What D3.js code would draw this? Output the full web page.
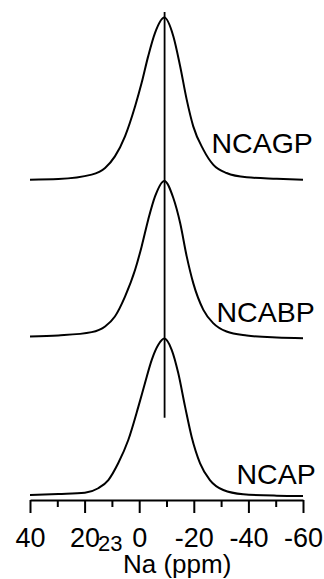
<!DOCTYPE html>
<html>
<head>
<meta charset="utf-8">
<script src="https://cdn.jsdelivr.net/npm/d3@7"></script>
<style>
    html, body { margin: 0; padding: 0; background: #fff; }
    svg { display: block; font-family: "Liberation Sans", Arial, sans-serif; }
</style>
</head>
<body>
<div id="plot"></div>
<script>
// sample names, stacked bottom to top
const samples = ["NCAP", "NCABP", "NCAGP"];
const offsets = [0, 1, 2];

// chemical shift (ppm), per spectrum
const shiftNCAP = [40, 29.6, 19.9, 15.0, 11.3, 7.7, 4.0, 0.3, -2.1, -4.6, -7.0, -9.2,
    -11.9, -14.3, -16.8, -19.2, -22.3, -25.9, -30.8, -38.1, -50.4, -60];
const intNCAP = [0.006, 0.013, 0.021, 0.049, 0.101, 0.207, 0.354, 0.565, 0.713, 0.861, 0.956, 0.995,
    0.924, 0.777, 0.565, 0.375, 0.207, 0.101, 0.038, 0.011, 0.002, 0.0];

const shiftNCABP = [40, 29.6, 17.4, 12.5, 8.9, 5.2, 1.5, -0.9, -3.3, -5.8, -9.2,
    -12.5, -15.0, -17.4, -19.8, -23.5, -27.1, -32.0, -39.4, -50.4, -60];
const intNCABP = [0.008, 0.015, 0.036, 0.072, 0.135, 0.261, 0.430, 0.578, 0.747, 0.894, 0.992,
    0.884, 0.726, 0.515, 0.346, 0.177, 0.093, 0.040, 0.015, 0.002, -0.002];

const shiftNCAGP = [40, 29.6, 17.4, 12.5, 8.9, 5.2, 1.5, -0.9, -3.3, -5.8, -9.2,
    -12.5, -15.0, -17.4, -19.8, -23.5, -27.1, -32.0, -39.4, -50.4, -60];
const intNCAGP = [0.0, 0.004, 0.032, 0.074, 0.147, 0.274, 0.464, 0.612, 0.781, 0.928, 1.025,
    0.907, 0.717, 0.506, 0.337, 0.190, 0.095, 0.042, 0.015, 0.006, 0.0];

// reference line position and extent (intensity units)
const refShift = -9.3;
const refSpan = [0.494, 3.06];

const majorTicks = [40, 20, 0, -20, -40, -60];
const minorTicks = [30, 10, -10, -30, -50];

const width = 324;
const height = 579;

const spectra = [
    { name: samples[0], offset: offsets[0], x: shiftNCAP, y: intNCAP, lx: 236.5, ly: 484 },
    { name: samples[1], offset: offsets[1], x: shiftNCABP, y: intNCABP, lx: 216.5, ly: 322 },
    { name: samples[2], offset: offsets[2], x: shiftNCAGP, y: intNCAGP, lx: 211.5, ly: 153 }
];

const svg = d3.select("#plot")
    .append("svg")
    .attr("width", width)
    .attr("height", height);

svg.append("rect")
    .attr("width", width)
    .attr("height", height)
    .attr("fill", "#fff");

// ppm axis runs high to low
const x = d3.scaleLinear()
    .domain([40, -60])
    .range([30, 303]);

const y = d3.scaleLinear()
    .domain([0, 3.06])
    .range([496, 12]);

const line = d3.line()
    .x(d => x(d[0]))
    .y(d => y(d[1]))
    .curve(d3.curveMonotoneX);

spectra.forEach(s => {
    const pts = s.x.map((v, i) => [v, s.y[i] + s.offset]);
    svg.append("path")
        .attr("d", line(pts))
        .attr("fill", "none")
        .attr("stroke", "#000")
        .attr("stroke-width", 2);

    svg.append("text")
        .attr("x", s.lx)
        .attr("y", s.ly)
        .attr("font-size", 28.5)
        .attr("fill", "#000")
        .text(s.name);
});

// vertical guide through the peaks
svg.append("line")
    .attr("x1", x(refShift))
    .attr("x2", x(refShift))
    .attr("y1", y(refSpan[0]))
    .attr("y2", y(refSpan[1]))
    .attr("stroke", "#000")
    .attr("stroke-width", 1.8);

// axes
const axisY = 500;

const major = svg.append("g")
    .attr("transform", `translate(0,${axisY})`)
    .call(d3.axisBottom(x)
        .tickValues(majorTicks)
        .tickSize(13)
        .tickSizeOuter(0)
        .tickPadding(15));

major.select(".domain").attr("stroke-width", 2);
major.selectAll(".tick line").attr("stroke-width", 2);
major.selectAll(".tick text")
    .attr("font-family", "Liberation Sans, Arial, sans-serif")
    .attr("font-size", 27)
    .attr("fill", "#000")
    .text(d => (d < 0 ? "-" + Math.abs(d) : String(d)));

const minor = svg.append("g")
    .attr("transform", `translate(0,${axisY})`)
    .call(d3.axisBottom(x)
        .tickValues(minorTicks)
        .tickFormat("")
        .tickSize(7)
        .tickSizeOuter(0));

minor.select(".domain").remove();
minor.selectAll(".tick line").attr("stroke-width", 2);

// axis title
svg.append("text")
    .attr("x", 98)
    .attr("y", 551)
    .attr("font-size", 22)
    .text("23");

svg.append("text")
    .attr("x", 123)
    .attr("y", 573)
    .attr("font-size", 26)
    .text("Na (ppm)");
</script>
</body>
</html>
